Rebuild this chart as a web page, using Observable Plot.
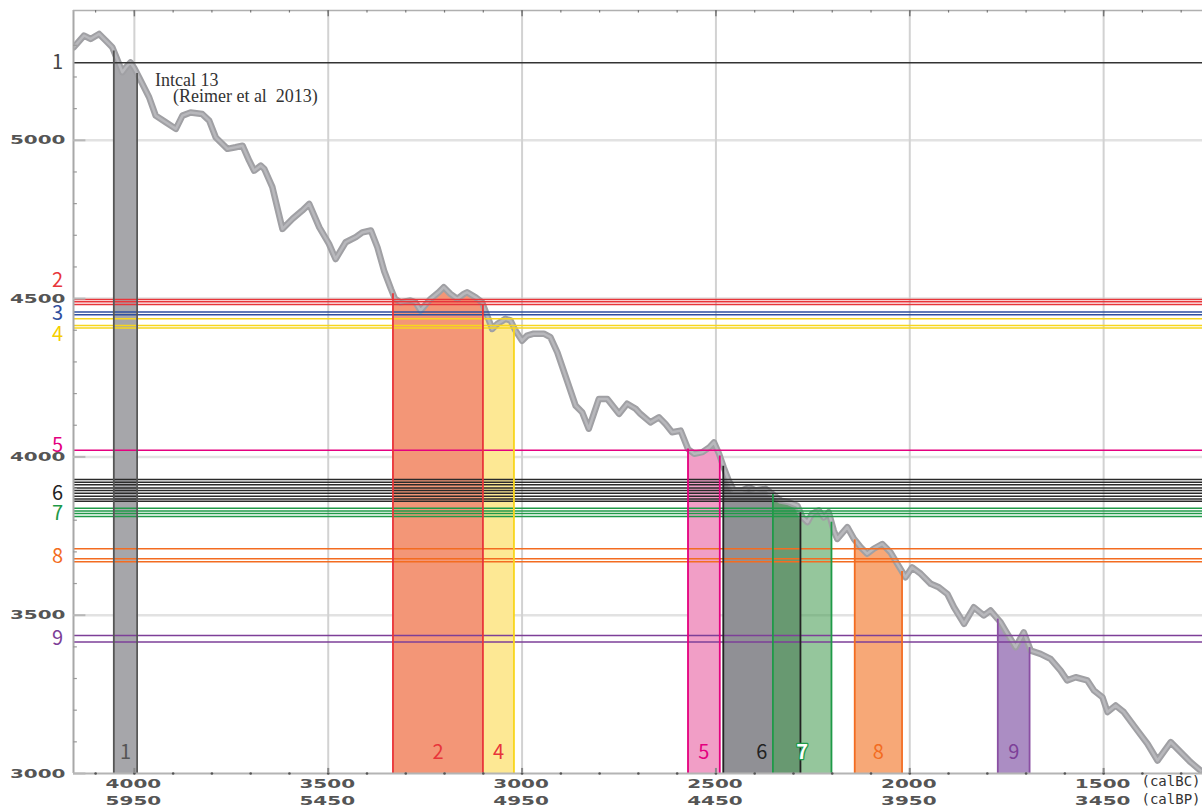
<!DOCTYPE html>
<html><head><meta charset="utf-8">
<script src="https://cdn.jsdelivr.net/npm/d3@7"></script>
<script src="https://cdn.jsdelivr.net/npm/@observablehq/plot@0.6"></script>
<style>
html,body{margin:0;padding:0;background:#fff;}
#chart svg{display:block;}
</style></head><body><div id="chart"></div>
<script>
// ---- IntCal13 calibration curve (calBC, 14C BP) ----
const curveBC = [4156,4130,4113,4091,4074,4057,4048,4031,4022,4010,4001,3988,3962,3945,3919,3893,3876,3855,3825,3807,3790,3760,3739,3721,3704,3691,3674,3665,3644,3618,3592,3567,3549,3523,3498,3481,3455,3429,3412,3390,3373,3356,3338,3328,3314,3288,3275,3262,3236,3215,3202,3185,3167,3150,3142,3120,3103,3090,3077,3064,3043,3030,3017,3000,2987,2970,2944,2927,2909,2884,2862,2845,2828,2815,2802,2780,2750,2729,2707,2695,2669,2647,2630,2613,2591,2572,2556,2535,2517,2505,2492,2480,2467,2454,2432,2415,2398,2372,2355,2333,2312,2290,2277,2264,2252,2235,2222,2209,2196,2187,2161,2144,2127,2110,2093,2071,2050,2032,2011,1994,1972,1946,1925,1903,1886,1860,1835,1809,1792,1774,1766,1748,1727,1706,1688,1663,1637,1611,1594,1572,1542,1525,1503,1490,1469,1448,1413,1387,1361,1327,1306,1276,1250];
const curveC14 = [5294,5331,5320,5336,5315,5294,5267,5215,5230,5246,5230,5199,5136,5078,5057,5036,5078,5088,5083,5062,5009,4973,4978,4983,4936,4904,4920,4910,4852,4720,4752,4778,4799,4725,4673,4625,4678,4694,4709,4715,4662,4588,4530,4500,4488,4494,4488,4462,4499,4520,4536,4515,4499,4515,4520,4504,4488,4446,4404,4420,4436,4431,4399,4367,4383,4389,4389,4378,4330,4241,4162,4141,4089,4136,4183,4183,4136,4168,4152,4136,4109,4125,4104,4078,4083,4025,4010,4015,4030,4046,4010,3967,3925,3894,3894,3904,3894,3899,3883,3862,3857,3846,3809,3794,3820,3831,3809,3825,3767,3741,3778,3741,3715,3694,3710,3725,3699,3662,3620,3651,3631,3599,3588,3567,3525,3473,3525,3499,3515,3489,3478,3441,3399,3446,3388,3378,3362,3325,3294,3304,3294,3262,3241,3194,3215,3194,3136,3094,3041,3099,3073,3036,3009];

// ---- calibrated ranges (bands) ----
const bandLabels  = ["1","2","4","5","6","7","8","9"];
const bandStartBC = [4053,3333,3101,2572,2481,2353,2142,1773];
const bandEndBC   = [3993,3101,3021,2490,2282,2202,2020,1691];

// ---- measured 14C ages (horizontal lines) ----
const dateGroups = ["1","2","3","4","5","6","7","8","9"];
const ages1 = [5245];
const ages2 = [4497,4490,4481];
const ages3 = [4458,4449];
const ages4 = [4436,4415,4407];
const ages5 = [4021];
const ages6 = [3929,3920,3912,3902,3894,3885,3876,3867,3860];
const ages7 = [3838,3829,3821,3812];
const ages8 = [3710,3678,3669];
const ages9 = [3436,3415];

// ---- axes ----
const xTicksBC = [4000,3500,3000,2500,2000,1500];
const xTickLabelsBC = ["4000","3500","3000","2500","2000","1500"];
const xTickLabelsBP = ["5950","5450","4950","4450","3950","3450"];
const yTicks = [3000,3500,4000,4500,5000];
const yTickLabels = ["3000","3500","4000","4500","5000"];
const unitLabels = ["(calBC)","(calBP)"];
const annotationText = "Intcal 13\n\u00a0\u00a0\u00a0\u00a0(Reimer et al\u00a0\u00a02013)";
const annotationBC = 3947;
const annotationC14 = 5121;

// ---- styles ----
const xDomain = [4157, 1245];
const yDomain = [3000, 5410];
const groupAges = {"1":ages1,"2":ages2,"3":ages3,"4":ages4,"5":ages5,"6":ages6,"7":ages7,"8":ages8,"9":ages9};
const lineColor = {"1":"#333","2":"#e8353a","3":"#2f4f9f","4":"#f7d61c","5":"#e4007f","6":"#2a2a2a","7":"#1f9a48","8":"#f36c21","9":"#7d3f98"};
const labelColor = {"1":"#444","2":"#e8353a","3":"#2f4f9f","4":"#f5cf00","5":"#e4007f","6":"#222","7":"#1f9a48","8":"#f36c21","9":"#7d3f98"};
const labelDy = {"1":0,"2":-21,"3":0,"4":10,"5":-5,"6":3,"7":1,"8":0,"9":0};
const bandFill = {"1":"#a6a6aa","2":"#f39677","4":"#fde894","5":"#f19ec6","6":"#909095","7":"#4fa05a","8":"#f7a877","9":"#ab8dc3"};
const bandOpacity = {"7":0.6};
const bandBorder = {"1":["#555","#555"],"2":["#e8353a","#e8353a"],"4":[null,"#f8d51a"],"5":["#e4007f","#e4007f"],"6":["#222","#222"],"7":["#1f9a48","#1f9a48"],"8":["#f36c21","#f36c21"],"9":["#8a4fa3","#8a4fa3"]};
const bandTextColor = {"1":"#555","2":"#e8353a","4":"#e8353a","5":"#e4007f","6":"#222","7":"#fff","8":"#f36c21","9":"#7d3f98"};

const curve = curveBC.map((bc,i)=>({bc, c14: curveC14[i]}));
function ageAt(bc){
  for (let i=0;i<curveBC.length-1;i++){
    const a=curveBC[i], b=curveBC[i+1];
    if (bc<=a && bc>=b){ const t=(a-bc)/(a-b); return curveC14[i]+t*(curveC14[i+1]-curveC14[i]); }
  }
  return curveC14[curveC14.length-1];
}
const bands = bandLabels.map((lab,i)=>{
  const s=bandStartBC[i], e=bandEndBC[i];
  const pts=[{bc:s,c14:ageAt(s)}, ...curve.filter(d=>d.bc<s && d.bc>e), {bc:e,c14:ageAt(e)}];
  return {lab, s, e, mid:(s+e)/2, pts};
});

const numFont = "DejaVu Sans";
const labFont = "Noto Sans CJK JP, Noto Sans, sans-serif";
const numStyle = {fill:"#555", fontSize:12.5, fontWeight:"bold", fontFamily:numFont, ariaDescription:"wide-num"};
const marks = [];
// grid
marks.push(Plot.ruleY(yTicks.slice(1), {stroke:"#e2e2e2", strokeWidth:2.5}));
marks.push(Plot.ruleX(xTicksBC, {stroke:"#d2d2d2", strokeWidth:2}));
// bands
for (const b of bands){
  marks.push(Plot.areaY(b.pts, {x:"bc", y1:yDomain[0], y2:"c14", fill:bandFill[b.lab], fillOpacity:bandOpacity[b.lab] ?? 1, curve:"linear"}));
}
// curve
marks.push(Plot.line(curve, {x:"bc", y:"c14", stroke:"#a0a0a4", strokeWidth:6.5, strokeLinejoin:"round", clip:true}));
marks.push(Plot.line(curve, {x:"bc", y:"c14", stroke:"#b8b8bc", strokeWidth:2.5, strokeLinejoin:"round", clip:true}));
// horizontal age lines
for (const g of dateGroups){
  marks.push(Plot.ruleY(groupAges[g], {stroke:lineColor[g], strokeWidth:1.5}));
}
// band borders
for (const b of bands){
  const [lc, rc] = bandBorder[b.lab];
  if (lc) marks.push(Plot.ruleX([b.s], {y1:yDomain[0], y2:ageAt(b.s), stroke:lc, strokeWidth:1.8}));
  if (rc) marks.push(Plot.ruleX([b.e], {y1:yDomain[0], y2:ageAt(b.e), stroke:rc, strokeWidth:1.8}));
}
// band labels
for (const b of bands){
  const opts = {x:"mid", text:"lab", frameAnchor:"bottom", dy:-15, fill:bandTextColor[b.lab], fontSize:20, fontFamily:labFont};
  if (b.lab==="7"){ opts.stroke="#1f9a48"; opts.strokeWidth=2.5; opts.fontWeight="bold"; }
  marks.push(Plot.text([b], opts));
}
// left group labels
for (const g of dateGroups){
  marks.push(Plot.text([g], {y:d3.mean(groupAges[g]), text:d=>d, frameAnchor:"left", dx:-16, dy:labelDy[g], textAnchor:"middle", fill:labelColor[g], fontSize:20, fontFamily:labFont}));
}
// frame lines
marks.push(Plot.ruleX([xDomain[0]], {stroke:"#a8a8a8", strokeWidth:2}));
marks.push(Plot.ruleY([yDomain[0]], {stroke:"#b4b4b4", strokeWidth:2}));
marks.push(Plot.ruleY([yDomain[1]], {stroke:"#b0b0b0", strokeWidth:1.5}));
// y ticks
const minorY = d3.range(3100, 5400, 100).filter(v=>!yTicks.includes(v));
marks.push(Plot.ruleY(minorY, {x1:xDomain[0], x2:xDomain[0]-10, stroke:"#9a9a9a", strokeWidth:1.2}));
marks.push(Plot.ruleY(yTicks, {x1:xDomain[0], x2:xDomain[0]-32, stroke:"#b8b8b8", strokeWidth:2}));
marks.push(Plot.text(yTicks, {y:d=>d, text:(d,i)=>yTickLabels[i], frameAnchor:"left", textAnchor:"end", dx:-8, ...numStyle}));
// x ticks
const minorX = d3.range(4100, 1245, -100);
marks.push(Plot.dot(minorX, {x:d=>d, y:yDomain[0], r:1.3, fill:"#555"}));
marks.push(Plot.ruleX(xTicksBC, {y1:yDomain[0], y2:yDomain[0]+16, stroke:"#888", strokeWidth:2}));
marks.push(Plot.ruleX(minorX, {y1:yDomain[1], y2:yDomain[1]-8, stroke:"#777", strokeWidth:1.2}));
marks.push(Plot.ruleX(xTicksBC, {y1:yDomain[1], y2:yDomain[1]-20, stroke:"#777", strokeWidth:1.5}));
marks.push(Plot.text(xTicksBC, {x:d=>d, text:(d,i)=>xTickLabelsBC[i], frameAnchor:"bottom", dy:14, dx:-1, ...numStyle}));
marks.push(Plot.text(xTicksBC, {x:d=>d, text:(d,i)=>xTickLabelsBP[i], frameAnchor:"bottom", dy:31, dx:-1, ...numStyle, fontStyle:(d)=> (d===3000||d===2500)?"italic":"normal"}));
marks.push(Plot.text([unitLabels[0]], {text:d=>d, frameAnchor:"bottom-right", textAnchor:"end", dx:-2, dy:12, fill:"#333", fontSize:14, fontFamily:"DejaVu Sans Mono"}));
marks.push(Plot.text([unitLabels[1]], {text:d=>d, frameAnchor:"bottom-right", textAnchor:"end", dx:-2, dy:30, fill:"#333", fontSize:14, fontFamily:"DejaVu Sans Mono"}));
// annotation
marks.push(Plot.text([annotationText], {x:annotationBC, y:annotationC14, text:d=>d, textAnchor:"start", lineAnchor:"bottom", lineHeight:0.9, fill:"#333", fontSize:18, fontFamily:"Liberation Serif, serif"}));

const chart = Plot.plot({
  width:1202, height:811,
  marginLeft:73, marginRight:0, marginTop:10, marginBottom:38,
  x:{domain:xDomain, axis:null},
  y:{domain:yDomain, axis:null},
  marks
});
// widen the axis numerals horizontally (extended-style digits)
d3.select(chart).selectAll('g[aria-description="wide-num"] text').each(function(){
  const t = this.getAttribute("transform") || "";
  this.setAttribute("transform", `${t} scale(1.6,1)`);
});
document.getElementById("chart").appendChild(chart);
</script>
</body></html>
